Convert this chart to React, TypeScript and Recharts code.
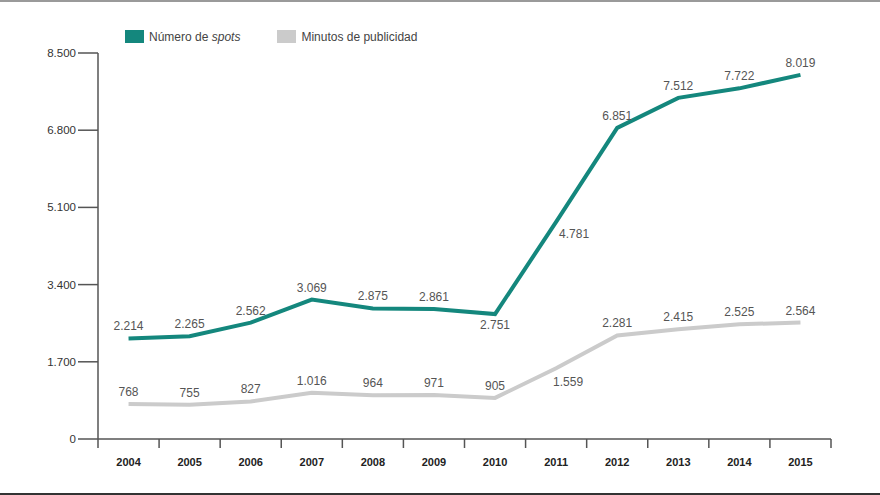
import { LineChart, Line, XAxis, YAxis } from 'recharts'

const years = ['2004', '2005', '2006', '2007', '2008', '2009', '2010', '2011', '2012', '2013', '2014', '2015']
const spots = [2214, 2265, 2562, 3069, 2875, 2861, 2751, 4781, 6851, 7512, 7722, 8019]
const minutos = [768, 755, 827, 1016, 964, 971, 905, 1559, 2281, 2415, 2525, 2564]
const yTicks = [0, 1700, 3400, 5100, 6800, 8500]

const data = years.map((year, i) => ({ year, spots: spots[i], minutos: minutos[i] }))

const TEAL = '#14877d'
const GRAY = '#cbcbcb'
const AXIS = '#555555'
const FONT = '"Liberation Sans", Arial, sans-serif'

const fmt = (v: number) => v.toLocaleString('de-DE')

// labels that sit off the default "above the point" spot
const spotsOffsets: Record<number, [number, number]> = { 6: [0, 15], 7: [18, 16] }
const minutosOffsets: Record<number, [number, number]> = { 7: [12, 18] }

function makeLabel(offsets: Record<number, [number, number]>) {
  return (props: any) => {
    const { x, y, value, index } = props
    if (x == null || y == null) return <g />
    const [dx, dy] = offsets[index] ?? [0, -8]
    return (
      <text
        key={`l-${index}`}
        x={Number(x) + dx}
        y={Number(y) + dy}
        textAnchor="middle"
        fontSize={12}
        fill="#555"
        fontFamily={FONT}
      >
        {fmt(Number(value))}
      </text>
    )
  }
}

function YearTick(props: any) {
  const { x, y, payload, index } = props
  const half = payload?.offset ?? 30.5
  return (
    <g>
      {index === 0 && <line x1={x - half} x2={x - half} y1={y - 8} y2={y + 1} stroke={AXIS} strokeWidth={1.5} />}
      <line x1={x + half} x2={x + half} y1={y - 8} y2={y + 1} stroke={AXIS} strokeWidth={1.5} />
      <text x={x} y={y + 19} textAnchor="middle" fontSize={11} fontWeight={700} fill="#222" fontFamily={FONT}>
        {payload.value}
      </text>
    </g>
  )
}

function Legend() {
  return (
    <div style={{ position: 'absolute', top: 30, left: 125, display: 'flex', fontFamily: FONT, fontSize: 12, color: '#444' }}>
      <span style={{ display: 'inline-block', width: 19, height: 13, background: TEAL, marginRight: 5 }} />
      <span>
        Número de <i>spots</i>
      </span>
      <span style={{ display: 'inline-block', width: 19, height: 13, background: GRAY, marginLeft: 37, marginRight: 5 }} />
      <span>Minutos de publicidad</span>
    </div>
  )
}

export default function App() {
  return (
    <div style={{ position: 'relative', width: 880, height: 495, background: '#fff', overflow: 'hidden' }}>
      <style>{'body{margin:0}'}</style>
      <div style={{ position: 'absolute', top: 0, left: 0, width: 880, height: 2, background: '#9a9a9a' }} />
      <div style={{ position: 'absolute', bottom: 0, left: 0, width: 880, height: 2, background: '#333' }} />
      <Legend />
      <LineChart width={880} height={495} data={data} margin={{ top: 53, right: 49, bottom: 0, left: 0 }}>
        <XAxis
          dataKey="year"
          scale="band"
          axisLine={{ stroke: AXIS, strokeWidth: 1.5 }}
          tickLine={false}
          tick={<YearTick />}
          interval={0}
          height={56}
        />
        <YAxis
          domain={[0, 8500]}
          ticks={yTicks}
          width={98}
          tickFormatter={fmt}
          axisLine={{ stroke: AXIS, strokeWidth: 1.5 }}
          tickLine={{ stroke: AXIS, strokeWidth: 1.5 }}
          tickSize={20}
          tick={{ fill: '#333', fontSize: 11.5, fontFamily: FONT }}
          allowDataOverflow
        />
        <Line
          type="linear"
          dataKey="minutos"
          stroke={GRAY}
          strokeWidth={4}
          dot={false}
          isAnimationActive={false}
          label={makeLabel(minutosOffsets)}
        />
        <Line
          type="linear"
          dataKey="spots"
          stroke={TEAL}
          strokeWidth={4}
          dot={false}
          isAnimationActive={false}
          label={makeLabel(spotsOffsets)}
        />
      </LineChart>
    </div>
  )
}
